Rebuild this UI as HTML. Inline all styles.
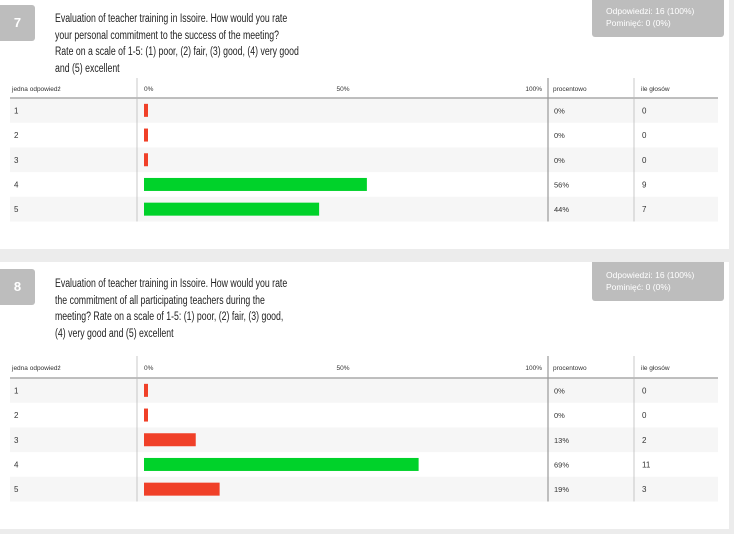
<!DOCTYPE html>
<html><head><meta charset="utf-8"><style>
body{margin:0;width:734px;height:534px;background:#ececec;font-family:"Liberation Sans",sans-serif;position:relative;overflow:hidden}
.panel{position:absolute;left:0;width:729px;background:#fff}
.badge{position:absolute;left:0;width:35px;height:36px;background:#bdbdbd;color:#fff;font-weight:bold;font-size:13px;line-height:36px;text-align:center;border-radius:0 3px 3px 0}
.title{position:absolute;left:55px;font-size:11.5px;line-height:16.5px;color:#222;transform:scaleX(0.76);transform-origin:0 0}
.stats{position:absolute;left:592px;width:132px;background:#bdbdbd;color:#fff;font-size:8.5px;line-height:12px;padding:5px 0 0 14px;box-sizing:border-box;border-radius:0 0 3px 3px}
svg text{font-family:"Liberation Sans",sans-serif;fill:#333}
</style></head><body>
<div class="panel" style="top:0;height:249px">
 <div class="badge" style="top:5px">7</div>
 <div class="title" style="top:11px;width:322px">Evaluation of teacher training in Issoire. How would you rate your personal commitment to the success of the meeting? Rate on a scale of 1-5: (1) poor, (2) fair, (3) good, (4) very good and (5) excellent</div>
 <div class="stats" style="top:0;height:37px">Odpowiedzi: 16 (100%)<br>Pominięć: 0 (0%)</div>
 <svg id="c1" style="position:absolute;left:0;top:78px" width="729" height="150"></svg>
</div>
<div class="panel" style="top:262px;height:267px">
 <div class="badge" style="top:7px">8</div>
 <div class="title" style="top:14px;width:308px">Evaluation of teacher training in Issoire. How would you rate the commitment of all participating teachers during the meeting? Rate on a scale of 1-5: (1) poor, (2) fair, (3) good, (4) very good and (5) excellent</div>
 <div class="stats" style="top:0;height:39px;padding-top:7px">Odpowiedzi: 16 (100%)<br>Pominięć: 0 (0%)</div>
 <svg id="c2" style="position:absolute;left:0;top:94px" width="729" height="150"></svg>
</div>
<script>
const categories=["1","2","3","4","5"];
const percents1=[0,0,0,56,44];
const counts1=[0,0,0,9,7];
const colors1=["red","red","red","green","green"];
const percents2=[0,0,13,69,19];
const counts2=[0,0,2,11,3];
const colors2=["red","red","red","green","red"];
const ticks=[0,50,100];
const NS="http://www.w3.org/2000/svg";
const COL={red:"#f04028",green:"#00d22a"};
function mk(p,t,a){const e=document.createElementNS(NS,t);for(const k in a)e.setAttribute(k,a[k]);p.appendChild(e);return e}
function xs(v){return 144+v*3.98}
function draw(svg,hh,pct,cnt,col){
 const rh=24.7,top=hh;
 categories.forEach((c,i)=>{
  const y=top+i*rh;
  if(i%2==0){const r=mk(svg,"rect",{x:10,y:y,width:708,height:rh,fill:"#f6f6f6"});
  
  }
  const t=mk(svg,"text",{x:14,y:y+rh/2+3,"font-size":8});t.textContent=c;
  
  
  const w=Math.max(4,xs(pct[i])-xs(0));
  const b=mk(svg,"rect",{x:xs(0),y:y+rh/2-6.5,width:w,height:13,fill:COL[col[i]]});
  
  
  const p=mk(svg,"text",{x:554,y:y+rh/2+3,"font-size":7.5});p.textContent=pct[i]+"%";
  
  
  const n=mk(svg,"text",{x:642,y:y+rh/2+3,"font-size":8});n.textContent=cnt[i];
  
  
 });
 const bot=top+5*rh;
 mk(svg,"line",{x1:10,x2:718,y1:hh,y2:hh,stroke:"#aaa","stroke-width":1.5});
 [137,548,634].forEach(x=>mk(svg,"line",{x1:x,x2:x,y1:0,y2:bot,stroke:x==548?"#999":"#bbb","stroke-width":x==548?1.2:0.8}));
 const hdr=[["jedna odpowiedź",12],["procentowo",553],["ile głosów",641]];
 hdr.forEach(h=>{const t=mk(svg,"text",{x:h[1],y:hh/2+3,"font-size":6.5,fill:"#555"});t.textContent=h[0];
  
  });
 ticks.forEach(v=>{const t=mk(svg,"text",{x:v==0?xs(0):xs(v),y:hh/2+3,"font-size":6.5,"text-anchor":v==0?"start":v==100?"end":"middle"});t.textContent=v+"%";
  
  });
}
draw(document.getElementById("c1"),20,percents1,counts1,colors1);
draw(document.getElementById("c2"),22,percents2,counts2,colors2);
</script>
</body></html>
